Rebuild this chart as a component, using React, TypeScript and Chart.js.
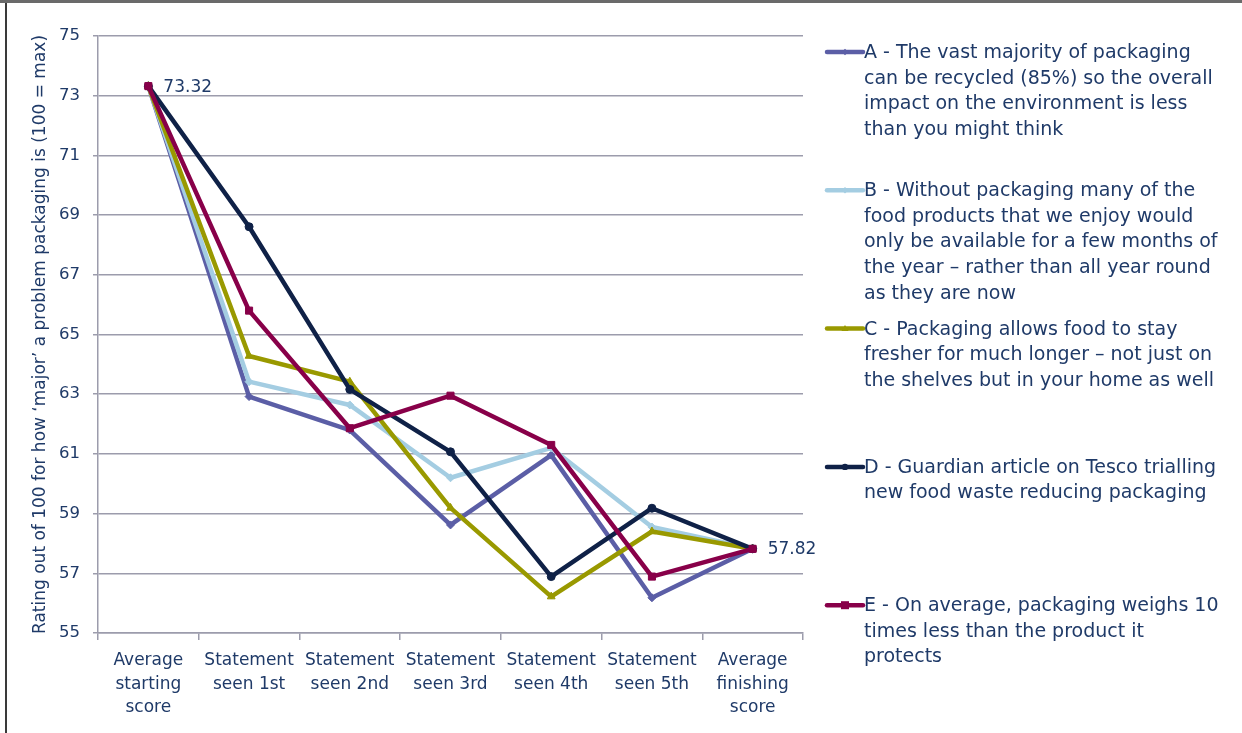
import React, { useEffect, useRef } from 'react';
import { Chart, registerables } from 'chart.js';

Chart.register(...registerables);

// ---------- DATA ----------
const categories: string[][] = [
  ['Average', 'starting', 'score'],
  ['Statement', 'seen 1st'],
  ['Statement', 'seen 2nd'],
  ['Statement', 'seen 3rd'],
  ['Statement', 'seen 4th'],
  ['Statement', 'seen 5th'],
  ['Average', 'finishing', 'score'],
];

const seriesA = [73.32, 62.92, 61.8, 58.62, 60.96, 56.18, 57.82];
const seriesB = [73.32, 63.42, 62.64, 60.2, 61.2, 58.55, 57.82];
const seriesC = [73.32, 64.28, 63.42, 59.19, 56.22, 58.4, 57.82];
const seriesD = [73.32, 68.61, 63.16, 61.07, 56.89, 59.18, 57.82];
const seriesE = [73.32, 65.8, 61.86, 62.95, 61.3, 56.89, 57.82];

const legendA = [
  'A - The vast majority of packaging',
  'can be recycled (85%) so the overall',
  'impact on the environment is less',
  'than you might think',
];
const legendB = [
  'B - Without packaging many of the',
  'food products that we enjoy would',
  'only be available for a few months of',
  'the year \u2013 rather than all year round',
  'as they are now',
];
const legendC = [
  'C - Packaging allows food to stay',
  'fresher for much longer \u2013 not just on',
  'the shelves but in your home as well',
];
const legendD = [
  'D - Guardian article on Tesco trialling',
  'new food waste reducing packaging',
];
const legendE = [
  'E - On average, packaging weighs 10',
  'times less than the product it',
  'protects',
];

const yMin = 55;
const yMax = 75;
const yStep = 2;
const yTitle = 'Rating out of 100 for how \u2018major\u2019 a problem packaging is (100 = max)';

// labelled points: [category index, value]
const dataLabelIdx = [0, 6];
const dataLabelVals = [73.32, 57.82];

// ---------- STYLE ----------
const FONT = "'DejaVu Sans', Tahoma, sans-serif";
const TEXT = '#1F3A68';
const GRID = '#9C9CAC';

const colA = '#5B5EA6';
const colB = '#A4CDE2';
const colC = '#999900';
const colD = '#0F2147';
const colE = '#880049';

export default function App() {
  const ref = useRef<HTMLCanvasElement | null>(null);

  useEffect(() => {
    document.body.style.margin = '0';
    const canvas = ref.current;
    if (!canvas) return;

    const seriesDefs = [
      { data: seriesA, color: colA, style: 'rectRot', r: 4, legend: legendA, order: 4 },
      { data: seriesB, color: colB, style: 'rectRot', r: 4, legend: legendB, order: 3 },
      { data: seriesC, color: colC, style: 'triangle', r: 4.5, legend: legendC, order: 2 },
      { data: seriesD, color: colD, style: 'circle', r: 4, legend: legendD, order: 1 },
      { data: seriesE, color: colE, style: 'rect', r: 5, legend: legendE, order: 0 },
    ];

    const framePlugin = {
      id: 'frame',
      beforeDraw(chart: any) {
        const ctx = chart.ctx;
        ctx.save();
        ctx.fillStyle = '#ffffff';
        ctx.fillRect(0, 0, chart.width, chart.height);
        ctx.fillStyle = '#6a6a6a';
        ctx.fillRect(0, 0, chart.width, 3);
        ctx.fillStyle = '#3a3a3a';
        ctx.fillRect(5, 3, 2, chart.height - 3);
        ctx.restore();
      },
    };

    const labelPlugin = {
      id: 'dataLabels',
      afterDatasetsDraw(chart: any) {
        const ctx = chart.ctx;
        const meta = chart.getDatasetMeta(4);
        ctx.save();
        ctx.font = `17px ${FONT}`;
        ctx.fillStyle = TEXT;
        ctx.textAlign = 'left';
        ctx.textBaseline = 'middle';
        dataLabelIdx.forEach((idx, i) => {
          const pt = meta.data[idx];
          ctx.fillText(dataLabelVals[i].toFixed(2), pt.x + 15, pt.y + 1);
        });
        ctx.restore();
      },
    };

    function drawMarker(ctx: CanvasRenderingContext2D, style: string, r: number, x: number, y: number) {
      ctx.beginPath();
      if (style === 'rectRot') {
        ctx.moveTo(x, y - r);
        ctx.lineTo(x + r, y);
        ctx.lineTo(x, y + r);
        ctx.lineTo(x - r, y);
        ctx.closePath();
      } else if (style === 'triangle') {
        ctx.moveTo(x, y - r);
        ctx.lineTo(x + r, y + r * 0.7);
        ctx.lineTo(x - r, y + r * 0.7);
        ctx.closePath();
      } else if (style === 'circle') {
        ctx.arc(x, y, r, 0, Math.PI * 2);
      } else {
        ctx.rect(x - r, y - r, 2 * r, 2 * r);
      }
      ctx.fill();
    }

    const legendPlugin = {
      id: 'sideLegend',
      afterDraw(chart: any) {
        const ctx = chart.ctx;
        const area = chart.chartArea;
        const x0 = area.right + 24;
        const x1 = x0 + 36;
        const tx = x1 + 1;
        const top = area.top + 16;
        const gap = 138.3;
        const lineH = 25.6;
        ctx.save();
        seriesDefs.forEach((s, i) => {
          const y = top + i * gap;
          ctx.strokeStyle = s.color;
          ctx.lineWidth = 4.5;
          ctx.lineCap = 'round';
          ctx.beginPath();
          ctx.moveTo(x0, y);
          ctx.lineTo(x1, y);
          ctx.stroke();
          ctx.fillStyle = s.color;
          drawMarker(ctx, s.style, s.r * 0.8, (x0 + x1) / 2, y);
          ctx.font = `19px ${FONT}`;
          ctx.fillStyle = TEXT;
          ctx.textAlign = 'left';
          ctx.textBaseline = 'middle';
          s.legend.forEach((line, j) => {
            ctx.fillText(line, tx, y + j * lineH + 1);
          });
        });
        ctx.restore();
      },
    };

    const chart = new Chart(canvas, {
      type: 'line',
      data: {
        labels: categories as any,
        datasets: seriesDefs.map((s) => ({
          label: s.legend.join(' '),
          data: s.data,
          borderColor: s.color,
          backgroundColor: s.color,
          borderWidth: 4.5,
          pointStyle: s.style as any,
          pointRadius: s.r,
          pointBackgroundColor: s.color,
          pointBorderColor: s.color,
          pointBorderWidth: 1,
          tension: 0,
          fill: false,
          order: s.order,
          borderJoinStyle: 'round' as any,
        })),
      },
      options: {
        responsive: false,
        devicePixelRatio: 1,
        animation: false,
        layout: { padding: { top: 36, right: 439, left: 0, bottom: 0 } },
        plugins: {
          legend: { display: false },
          tooltip: { enabled: false },
        },
        scales: {
          x: {
            offset: true,
            grid: {
              offset: true,
              drawOnChartArea: false,
              color: GRID,
              lineWidth: 1.5,
              tickLength: 7,
            },
            border: { display: true, color: GRID, width: 1.5 },
            ticks: {
              color: TEXT,
              font: { family: FONT, size: 17, lineHeight: 1.39 },
              padding: 9,
              maxRotation: 0,
              autoSkip: false,
            },
            afterFit: (scale: any) => {
              scale.height = 100;
            },
          },
          y: {
            min: yMin,
            max: yMax,
            ticks: {
              stepSize: yStep,
              color: TEXT,
              font: { family: FONT, size: 16.5 },
              padding: 13,
            },
            grid: {
              color: GRID,
              lineWidth: 1.5,
              tickLength: 5,
            },
            border: { display: true, color: GRID, width: 1.5 },
            title: {
              display: true,
              text: yTitle,
              color: TEXT,
              font: { family: FONT, size: 17 },
              padding: { top: 30, bottom: 0 },
            },
            afterFit: (scale: any) => {
              scale.width = 98;
            },
          },
        },
      },
      plugins: [framePlugin, labelPlugin, legendPlugin],
    });

    return () => chart.destroy();
  }, []);

  return (
    <div style={{ width: 1242, height: 733 }}>
      <canvas ref={ref} width={1242} height={733} />
    </div>
  );
}
